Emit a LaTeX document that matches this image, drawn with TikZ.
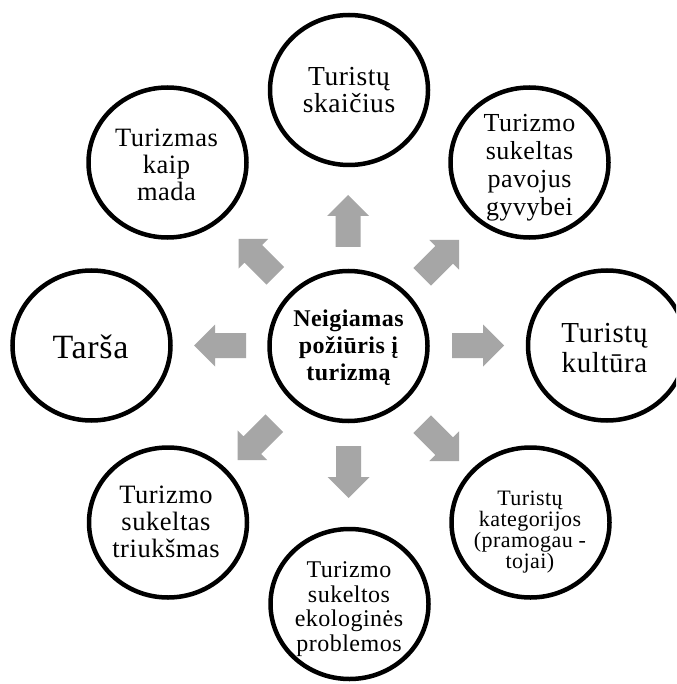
\documentclass[tikz,border=0pt]{standalone}
\usepackage{fontspec}
\setmainfont{Liberation Serif}[LetterSpace=2]
\usetikzlibrary{shapes.geometric}
\definecolor{arrowgray}{RGB}{166,166,166}
\begin{document}
\begin{tikzpicture}[x=1pt,y=-1pt,
  bubble/.style={ellipse, draw=black, line width=4.5pt, minimum width=158pt, minimum height=150pt, inner sep=0pt},
  txt/.style={align=center, inner sep=0pt, text=black},
  blockarrow/.pic={\fill[arrowgray] (-52,-12.5) -- (-21,-12.5) -- (-21,-21) -- (0,0) -- (-21,21) -- (-21,12.5) -- (-52,12.5) -- cycle;}]
\useasboundingbox (0,0) rectangle (676,684);
\clip (0,0) rectangle (676,684);
\fill[white] (0,0) rectangle (676,684);

% circles
\node[bubble] (nCtr) at (348.5,346) {};
\node[bubble] (nTop) at (349,90) {};
\node[bubble] (nTL) at (167.5,162.5) {};
\node[bubble] (nTR) at (529.5,162.5) {};
\node[bubble] (nL) at (91.5,345.5) {};
\node[bubble] (nR) at (607,345.5) {};
\node[bubble] (nBL) at (168,522.5) {};
\node[bubble] (nBR) at (530.5,522.5) {};
\node[bubble] (nBot) at (349.5,604) {};

% texts
\node[txt, font=\bfseries\fontsize{24}{27}\selectfont] (tCtr) at (348.5,348) {Neigiamas\\požiūris į\\turizmą};
\node[txt, font=\fontsize{27.5}{27}\selectfont] (tTop) at (349,90.4) {Turistų\\skaičius};
\node[txt, font=\fontsize{26.5}{27}\selectfont] (tTL) at (166.5,164.7) {Turizmas\\kaip\\mada};
\node[txt, font=\fontsize{26}{28}\selectfont] (tTR) at (529.5,167.5) {Turizmo\\sukeltas\\pavojus\\gyvybei};
\node[txt, font=\fontsize{34}{33}\selectfont] (tL) at (90.5,347) {Tarša};
\node[txt, font=\fontsize{29}{30}\selectfont] (tR) at (604.5,348.5) {Turistų\\kultūra};
\node[txt, font=\fontsize{26.5}{27}\selectfont] (tBL) at (166,522) {Turizmo\\sukeltas\\triukšmas};
\node[txt, font=\fontsize{22}{21}\selectfont] (tBR) at (530,532.5) {Turistų\\kategorijos\\(pramogau -\\tojai)};
\node[txt, font=\fontsize{24}{24.5}\selectfont] (tBot) at (349,609) {Turizmo\\sukeltos\\ekologinės\\problemos};

% block arrows
\pic[rotate=90] (aUp) at (348,195) {blockarrow};
\pic[rotate=-90] (aDown) at (348.5,498) {blockarrow};
\pic[rotate=180] (aLeft) at (194,345.5) {blockarrow};
\pic[rotate=0] (aRight) at (504,345.5) {blockarrow};
\pic[rotate=135] (aTL) at (238.5,239) {blockarrow};
\pic[rotate=45] (aTR) at (459,240) {blockarrow};
\pic[rotate=-135] (aBL) at (237.5,460) {blockarrow};
\pic[rotate=-45] (aBR) at (459,461) {blockarrow};
\end{tikzpicture}
\end{document}
